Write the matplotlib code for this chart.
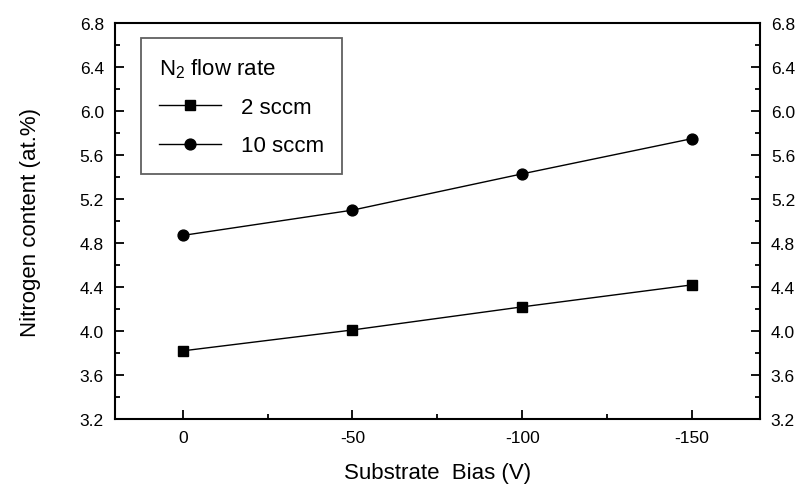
import matplotlib.pyplot as plt
from matplotlib.ticker import MultipleLocator, FuncFormatter

plt.rcParams['font.family'] = ['Liberation Sans', 'DejaVu Sans']
plt.rcParams['mathtext.default'] = 'regular'
plt.rcParams['axes.unicode_minus'] = False

bias = [0, -50, -100, -150]
n2_2sccm = [3.82, 4.01, 4.22, 4.42]
n2_10sccm = [4.87, 5.10, 5.43, 5.75]

fig = plt.figure(figsize=(7.98, 4.85), dpi=100)
ax = fig.add_axes([0.144, 0.134, 0.808, 0.816])

ax.plot(bias, n2_2sccm, color='black', lw=1.0, marker='s', markersize=7.2,
        label='2 sccm')
ax.plot(bias, n2_10sccm, color='black', lw=1.0, marker='o', markersize=7.8,
        label='10 sccm')

ax.set_xlim(20, -170)
ax.set_ylim(3.2, 6.8)
ax.xaxis.set_major_locator(MultipleLocator(50))
ax.xaxis.set_minor_locator(MultipleLocator(25))
ax.xaxis.set_major_formatter(FuncFormatter(lambda v, p: '%d' % v))
ax.yaxis.set_major_locator(MultipleLocator(0.4))
ax.yaxis.set_minor_locator(MultipleLocator(0.2))
ax.yaxis.set_major_formatter(plt.FormatStrFormatter('%.1f'))

ax.tick_params(which='both', direction='in', width=1.3, labelsize=12.5,
               top=False, right=True, labelright=True)
ax.tick_params(which='major', length=6.5, pad=8)
ax.tick_params(which='minor', length=3.6)
for s in ax.spines.values():
    s.set_linewidth(1.5)

ax.set_xlabel('Substrate  Bias (V)', fontsize=16, labelpad=12.5)
ax.set_ylabel('Nitrogen content (at.%)', fontsize=16, labelpad=28)

leg = ax.legend(title=r'N$_{2}$ flow rate', loc='upper left',
                bbox_to_anchor=(0.041, 0.962), borderaxespad=0,
                fontsize=16, title_fontsize=16,
                fancybox=False, edgecolor='#606060', framealpha=1,
                handlelength=2.8, borderpad=0.8, labelspacing=0.78,
                handletextpad=0.9)
leg._legend_box.align = 'left'
leg.get_frame().set_linewidth(1.3)

fig.savefig('out.png', dpi=100)
